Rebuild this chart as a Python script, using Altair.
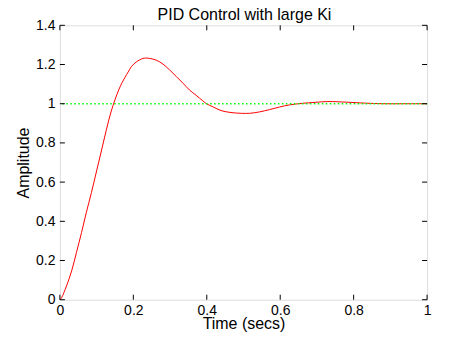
import altair as alt
import pandas as pd

# Step response
time_s = [0, 0.0045, 0.018, 0.032, 0.045, 0.059, 0.072, 0.086, 0.1, 0.113,
          0.127, 0.14, 0.161, 0.177, 0.186, 0.195, 0.208, 0.226, 0.235,
          0.245, 0.263, 0.281, 0.299, 0.317, 0.335, 0.353, 0.371, 0.389, 0.399,
          0.417, 0.439, 0.466, 0.494, 0.516, 0.543, 0.571, 0.598, 0.625, 0.66,
          0.695, 0.73, 0.78, 0.83, 0.88, 0.94, 1.0]
amplitude = [0, 0.01, 0.07, 0.147, 0.24, 0.343, 0.445, 0.547, 0.657, 0.759,
             0.87, 0.963, 1.074, 1.134, 1.162, 1.19, 1.213, 1.231, 1.233,
             1.231, 1.222, 1.202, 1.172, 1.139, 1.105, 1.07, 1.043, 1.015, 1.0,
             0.984, 0.965, 0.955, 0.951, 0.951, 0.958, 0.97, 0.983, 0.994, 1.002,
             1.007, 1.011, 1.008, 1.003, 1.0, 1.0, 1.0]
reference_level = [1.0]
x_ticks = [0, 0.2, 0.4, 0.6, 0.8, 1.0]
y_ticks = [0, 0.2, 0.4, 0.6, 0.8, 1.0, 1.2, 1.4]
title_text = ["PID Control with large Ki"]

W, H = 368, 275
FONT = "Liberation Sans"

df = pd.DataFrame({"t": time_s, "a": amplitude})
ref_df = pd.DataFrame({"level": reference_level})
xt = pd.DataFrame({"v": x_ticks})
yt = pd.DataFrame({"v": y_ticks})
tdf = pd.DataFrame({"title": title_text})

xs = alt.Scale(domain=[0, 1], nice=False, zero=False)
ys = alt.Scale(domain=[0, 1.4], nice=False, zero=False)

x_axis = alt.Axis(values=x_ticks, format="~g", grid=False, domain=False, ticks=False,
                  tickSize=0, labelPadding=4, labelFontSize=14, labelFont=FONT,
                  labelColor="black", labelOverlap=False, title="Time (secs)",
                  titleFont=FONT, titleFontSize=16, titleFontWeight="normal",
                  titleColor="black", titleBaseline="alphabetic", titleY=29,
                  labelFlush=False)
y_axis = alt.Axis(values=y_ticks, format="~g", grid=False, domain=False, ticks=False,
                  tickSize=0, labelPadding=5, labelFontSize=14, labelFont=FONT,
                  labelColor="black", labelOverlap=False, title="Amplitude",
                  titleFont=FONT, titleFontSize=16, titleFontWeight="normal",
                  titleColor="black", titleBaseline="alphabetic", titleX=-31,
                  labelFlush=False)

line = alt.Chart(df).mark_line(color="#ff0000", strokeWidth=1, interpolate="catmull-rom").encode(
    x=alt.X("t:Q", scale=xs, axis=x_axis),
    y=alt.Y("a:Q", scale=ys, axis=y_axis),
)

ref = alt.Chart(ref_df).mark_rule(color="#00ff00", strokeWidth=1.5, strokeDash=[1.5, 2.5]).encode(
    y=alt.Y("level:Q", scale=ys, axis=y_axis)
)

tick_len = 5
bottom_ticks = alt.Chart(xt).mark_rule(color="black", strokeWidth=1).encode(
    x=alt.X("v:Q", scale=xs, axis=x_axis), y=alt.value(H), y2=alt.value(H - tick_len))
top_ticks = alt.Chart(xt).mark_rule(color="black", strokeWidth=1).encode(
    x=alt.X("v:Q", scale=xs, axis=x_axis), y=alt.value(0), y2=alt.value(tick_len))
left_ticks = alt.Chart(yt).mark_rule(color="black", strokeWidth=1).encode(
    y=alt.Y("v:Q", scale=ys, axis=y_axis), x=alt.value(0), x2=alt.value(tick_len))
right_ticks = alt.Chart(yt).mark_rule(color="black", strokeWidth=1).encode(
    y=alt.Y("v:Q", scale=ys, axis=y_axis), x=alt.value(W), x2=alt.value(W - tick_len))

title_mark = alt.Chart(tdf).mark_text(font=FONT, fontSize=16, color="black",
                                      align="center", baseline="alphabetic").encode(
    text="title:N", x=alt.value(W / 2 + 1), y=alt.value(-5))

chart = alt.layer(line, ref, bottom_ticks, top_ticks, left_ticks, right_ticks,
                  title_mark).properties(
    width=W, height=H,
    autosize=alt.AutoSizeParams(type="none"),
    padding={"left": 52, "top": 17, "right": 40, "bottom": 35},
).configure_view(stroke="black", strokeWidth=1).configure(background="white")

chart.save("out.html", embed_options={"renderer": "svg", "actions": False})
